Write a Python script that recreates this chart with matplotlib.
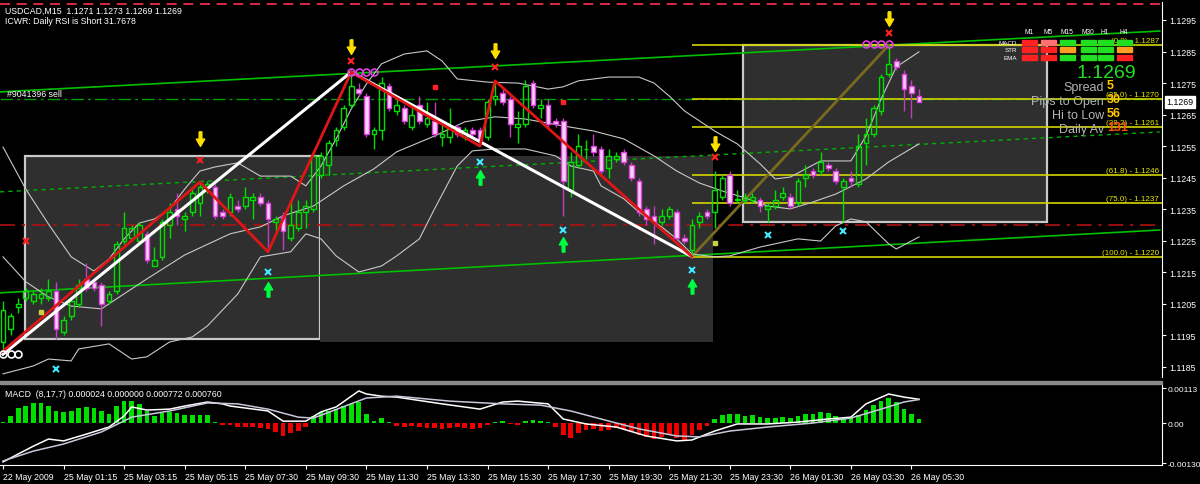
import numpy as np
import matplotlib.pyplot as plt
from matplotlib.patches import Rectangle
from matplotlib.path import Path
from matplotlib.transforms import blended_transform_factory

plt.rcParams['font.family'] = ['Liberation Sans', 'DejaVu Sans']

# ---------------- USDCAD M15 bars (index 0 = last bar of 22 May) ----------------
opens = [1.1193, 1.1197, 1.1204, 1.1207, 1.1206, 1.1207, 1.1207, 1.1209, 1.1196, 1.1201,
         1.1205, 1.1213, 1.1212, 1.1211, 1.1206, 1.1209, 1.1225, 1.1226, 1.1225, 1.1227,
         1.1217, 1.1220, 1.1230, 1.1235, 1.1232, 1.1234, 1.1237, 1.1242, 1.1242, 1.1234,
         1.1234, 1.1236, 1.1236, 1.1238, 1.1239, 1.1237, 1.1231, 1.1233, 1.1226, 1.1229,
         1.1234, 1.1235, 1.1246, 1.1249, 1.1257, 1.1261, 1.1268, 1.1273, 1.1271, 1.1259,
         1.1260, 1.1274, 1.1266, 1.1267, 1.1261, 1.1268, 1.1262, 1.1263, 1.1258, 1.1258,
         1.1261, 1.1258, 1.1260, 1.1260, 1.1258, 1.1270, 1.1272, 1.1270, 1.1261, 1.1262,
         1.1275, 1.1267, 1.1268, 1.1263, 1.1263, 1.1241, 1.1249, 1.1254, 1.1255, 1.1254,
         1.1248, 1.1251, 1.1253, 1.1249, 1.1244, 1.1235, 1.1233, 1.1231, 1.1233, 1.1234,
         1.1226, 1.1222, 1.1231, 1.1234, 1.1234, 1.1239, 1.1246, 1.1238, 1.1238, 1.1238,
         1.1238, 1.1235, 1.1236, 1.1239, 1.1239, 1.1237, 1.1245, 1.1247, 1.1247, 1.1249,
         1.1247, 1.1242, 1.1245, 1.1243, 1.1256, 1.1259, 1.1266, 1.1278, 1.1282, 1.1278,
         1.1274, 1.1271]
highs = [1.1206, 1.1202, 1.1207, 1.1210, 1.1209, 1.1210, 1.1213, 1.1212, 1.1201, 1.1207,
         1.1213, 1.1218, 1.1213, 1.1212, 1.1209, 1.1225, 1.1234, 1.1230, 1.1231, 1.1228,
         1.1223, 1.1232, 1.1237, 1.1240, 1.1234, 1.1242, 1.12436, 1.1244, 1.1243, 1.1235,
         1.1240, 1.1238, 1.1242, 1.1240, 1.1240, 1.1238, 1.1233, 1.1234, 1.1238, 1.1238,
         1.1238, 1.1253, 1.1253, 1.1257, 1.1261, 1.1268, 1.12785, 1.1275, 1.1272, 1.1261,
         1.1277, 1.1275, 1.1270, 1.1268, 1.1268, 1.1271, 1.1269, 1.1269, 1.1262, 1.1267,
         1.1262, 1.1261, 1.1261, 1.1261, 1.1270, 1.12757, 1.1273, 1.1271, 1.1266, 1.1276,
         1.1276, 1.1270, 1.1270, 1.1264, 1.1264, 1.1253, 1.1259, 1.1257, 1.1259, 1.1255,
         1.1254, 1.1253, 1.1254, 1.1250, 1.1245, 1.1236, 1.1236, 1.1235, 1.1236, 1.1235,
         1.1227, 1.1232, 1.1234, 1.1235, 1.1247, 1.1246, 1.1247, 1.1241, 1.1240, 1.1240,
         1.1239, 1.1237, 1.1241, 1.1242, 1.1240, 1.1245, 1.1249, 1.1248, 1.1253, 1.1250,
         1.1248, 1.1245, 1.1247, 1.1259, 1.1264, 1.1268, 1.1278, 1.1287, 1.1283, 1.1279,
         1.1276, 1.1273]
lows = [1.1189, 1.1195, 1.1202, 1.1206, 1.1205, 1.1205, 1.1206, 1.1194, 1.1195, 1.1200,
        1.1204, 1.1209, 1.1209, 1.1198, 1.1205, 1.1208, 1.1224, 1.1225, 1.1224, 1.1218,
        1.1217, 1.1219, 1.1226, 1.1230, 1.1228, 1.1233, 1.1233, 1.1240, 1.1232, 1.1232,
        1.1233, 1.1234, 1.1235, 1.1232, 1.1236, 1.12215, 1.1228, 1.1222, 1.1225, 1.1228,
        1.1229, 1.1234, 1.1245, 1.1246, 1.1255, 1.1260, 1.1267, 1.1271, 1.1258, 1.1254,
        1.1257, 1.1266, 1.1265, 1.1262, 1.1260, 1.1262, 1.1261, 1.1258, 1.1255, 1.1256,
        1.1258, 1.1257, 1.1258, 1.1255, 1.1257, 1.1268, 1.1268, 1.1258, 1.1256, 1.1261,
        1.1267, 1.1264, 1.1261, 1.1261, 1.1233, 1.1239, 1.1248, 1.1251, 1.1252, 1.1246,
        1.1245, 1.1250, 1.1249, 1.1244, 1.1233, 1.1230, 1.1224, 1.1230, 1.1232, 1.1225,
        1.1224, 1.1220, 1.1229, 1.1232, 1.1229, 1.1238, 1.1236, 1.1237, 1.1237, 1.1237,
        1.1234, 1.1231, 1.1235, 1.1238, 1.1235, 1.1236, 1.1242, 1.1245, 1.1246, 1.1247,
        1.1243, 1.1231, 1.1242, 1.1242, 1.1249, 1.1258, 1.1265, 1.1277, 1.1279, 1.1266,
        1.1264, 1.1269]
closes = [1.1203, 1.1201, 1.1205, 1.1209, 1.1208, 1.1208, 1.1209, 1.1197, 1.1200, 1.1206,
          1.1211, 1.1210, 1.1210, 1.1205, 1.1208, 1.1224, 1.1229, 1.1229, 1.1230, 1.1219,
          1.1219, 1.1231, 1.1234, 1.1233, 1.1233, 1.1240, 1.1242, 1.1243, 1.1233, 1.1233,
          1.1239, 1.1235, 1.1239, 1.1239, 1.1237, 1.1232, 1.1232, 1.1228, 1.1230, 1.1234,
          1.1236, 1.1252, 1.1252, 1.1256, 1.1260, 1.1267, 1.1274, 1.1272, 1.1259, 1.1260,
          1.1275, 1.1267, 1.1268, 1.1263, 1.1265, 1.1263, 1.1264, 1.1259, 1.1259, 1.1261,
          1.1259, 1.1260, 1.1259, 1.1257, 1.1269, 1.1271, 1.1269, 1.1262, 1.1262, 1.1274,
          1.1268, 1.1268, 1.1262, 1.1262, 1.1244, 1.1250, 1.1255, 1.1254, 1.1253, 1.1247,
          1.1252, 1.1252, 1.1250, 1.1245, 1.1234, 1.1232, 1.1231, 1.1233, 1.1235, 1.1226,
          1.1225, 1.1230, 1.1233, 1.1233, 1.1241, 1.1245, 1.1237, 1.1238, 1.1239, 1.1239,
          1.1236, 1.1236, 1.1238, 1.1240, 1.1236, 1.1244, 1.1246, 1.1246, 1.1250, 1.1248,
          1.1244, 1.1244, 1.1244, 1.1255, 1.1259, 1.1267, 1.1277, 1.1281, 1.1280, 1.1273,
          1.1272, 1.1269]

# Bollinger bands (bar, price)
bb_up_bar = [0, 3, 6, 9, 12, 14, 16, 18, 20, 22, 24, 26, 28, 31, 34, 38, 40, 42, 44, 46, 48, 50, 53,
             56, 58, 60, 64, 68, 72, 74, 76, 80, 84, 86, 88, 90, 92, 94, 97, 100, 102, 104, 108,
             112, 114, 116, 118, 121]
bb_up = [1.12547, 1.12414, 1.12303, 1.12199, 1.12154, 1.12192, 1.12256, 1.12306, 1.12319, 1.12351,
         1.12414, 1.12471, 1.12484, 1.12497, 1.12455, 1.12455, 1.12424, 1.12487, 1.12573, 1.12668,
         1.12747, 1.12811, 1.12842, 1.12852, 1.12820, 1.12763, 1.12753, 1.12750, 1.12731, 1.12738,
         1.12757, 1.12769, 1.12769, 1.12750, 1.12709, 1.12662, 1.12630, 1.12598, 1.12557, 1.12494,
         1.12446, 1.12452, 1.12503, 1.12503, 1.12582, 1.12700, 1.12801, 1.12849]
bb_mid_bar = [0, 3, 6, 9, 13, 15, 19, 24, 30, 34, 37, 41, 45, 49, 52, 57, 61, 65, 69, 74, 78, 82,
              86, 89, 92, 95, 98, 101, 104, 107, 110, 114, 117, 121]
bb_mid = [1.12199, 1.12120, 1.12072, 1.12043, 1.12034, 1.12066, 1.12129, 1.12205, 1.12272, 1.12294,
          1.12329, 1.12360, 1.12424, 1.12478, 1.12532, 1.12582, 1.12627, 1.12643, 1.12636, 1.12614,
          1.12598, 1.12573, 1.12519, 1.12471, 1.12433, 1.12408, 1.12386, 1.12360, 1.12351, 1.12373,
          1.12398, 1.12446, 1.12500, 1.12557]
bb_lo_bar = [0, 4, 6, 9, 10, 14, 17, 19, 22, 25, 27, 31, 34, 38, 40, 42, 44, 47, 50, 52, 55, 57,
             60, 62, 65, 69, 73, 75, 78, 79, 82, 84, 87, 89, 91, 94, 96, 100, 105, 108, 110, 112,
             114, 117, 118, 121]
bb_lo = [1.11828, 1.11853, 1.11875, 1.11869, 1.11907, 1.11923, 1.11875, 1.11882, 1.11929, 1.11945,
         1.11980, 1.12081, 1.12199, 1.12215, 1.12272, 1.12256, 1.12202, 1.12151, 1.12170, 1.12202,
         1.12256, 1.12351, 1.12487, 1.12535, 1.12541, 1.12541, 1.12519, 1.12487, 1.12471, 1.12424,
         1.12383, 1.12341, 1.12294, 1.12256, 1.12208, 1.12199, 1.12202, 1.12230, 1.12256, 1.12249,
         1.12297, 1.12319, 1.12310, 1.12240, 1.12224, 1.12262]

# zigzags (bar, price)
zz_white_bar = [0, 46, 91]
zz_white = [1.1189, 1.12785, 1.1220]
zz_red_bar = [0, 26, 35, 46, 63, 65, 91]
zz_red = [1.1190, 1.12436, 1.12215, 1.12785, 1.1255, 1.12757, 1.1220]

# channel lines (bar at left edge / right edge, price)
chan_bars = [-0.4, 152.8]
chan_top = [1.12722, 1.12915]
chan_bot = [1.12085, 1.12284]
chan_mid = [1.12405, 1.12595]

# boxes: start bar, end bar, low, high, outlined
box_x0 = [2.9, 41.9, 97.8]
box_x1 = [41.9, 93.8, 137.9]
box_lo = [1.1194, 1.1193, 1.1231]
box_hi = [1.1252, 1.1252, 1.1287]
box_edge = [True, False, True]

# fibonacci levels from the 1.1220 low (bar 91) to the 1.1287 high (bar 117)
fib_levels = [1.1287, 1.1270, 1.1261, 1.1246, 1.1237, 1.1220]
fib_names = ['(0.0) - 1.1287', '(25.0) - 1.1270', '(38.2) - 1.1261',
             '(61.8) - 1.1246', '(75.0) - 1.1237', '(100.0) - 1.1220']

# signal markers
down_arrow_bar = [26, 46, 65, 94, 117]
down_arrow_px = [1.12573, 1.12864, 1.12852, 1.12557, 1.12953]
red_x_bar = [3, 26, 46, 65, 94, 117]
red_x_px = [1.12249, 1.12506, 1.12820, 1.12801, 1.12516, 1.12909]
cyan_x_bar = [7, 35, 63, 74, 91, 101, 111]
cyan_x_px = [1.11844, 1.12151, 1.12500, 1.12284, 1.12158, 1.12268, 1.12281]
up_arrow_bar = [35, 63, 74, 91]
up_arrow_px = [1.12097, 1.12452, 1.12240, 1.12107]
pink_o_bar = [46, 47, 48, 49, 114, 115, 116, 117]
pink_o_px = [1.12785] * 4 + [1.12874] * 4
white_o_bar = [0, 1, 2]
white_o_px = [1.1189, 1.1189, 1.1189]
dot_bar = [5, 94]
dot_px = [1.12024, 1.12243]
red_dot_bar = [57, 74]
red_dot_px = [1.12738, 1.12690]

# MACD (8,17,7) panel
macd_hist = [0.00003, 0.00023, 0.00049, 0.00055, 0.00065, 0.00065, 0.00055, 0.00039, 0.00036, 0.00039,
             0.00049, 0.00052, 0.00049, 0.00039, 0.00029, 0.00055, 0.00071, 0.00071, 0.00062, 0.00039,
             0.00023, 0.00032, 0.00036, 0.00032, 0.00026, 0.00026, 0.00026, 0.00026, 0.00002, -0.00006,
             -0.00006, -0.00013, -0.00013, -0.00013, -0.00016, -0.00019, -0.00029, -0.00042, -0.00032, -0.00026,
             -0.00013, 0.00023, 0.00036, 0.00039, 0.00045, 0.00055, 0.00062, 0.00068, 0.00029, 0.00006,
             0.00016, 0.00003, -0.00010, -0.00013, -0.00010, -0.00013, -0.00016, -0.00016, -0.00019, -0.00016,
             -0.00013, -0.00016, -0.00019, -0.00016, -0.00006, 0.00003, 0.00006, -0.00003, -0.00006, 0.00006,
             0.00010, 0.00006, 0.00003, -0.00013, -0.00039, -0.00049, -0.00032, -0.00023, -0.00019, -0.00026,
             -0.00023, -0.00016, -0.00019, -0.00026, -0.00039, -0.00045, -0.00052, -0.00045, -0.00039, -0.00049,
             -0.00055, -0.00039, -0.00023, -0.00010, 0.00013, 0.00026, 0.00029, 0.00029, 0.00023, 0.00026,
             0.00019, 0.00016, 0.00016, 0.00019, 0.00016, 0.00023, 0.00029, 0.00029, 0.00036, 0.00032,
             0.00023, 0.00016, 0.00016, 0.00026, 0.00042, 0.00058, 0.00071, 0.00081, 0.00068, 0.00045,
             0.00029, 0.00013]
macd_main_bar = [0, 4, 6, 8, 11, 14, 16, 17, 19, 22, 24, 27, 29, 30, 35, 37, 40, 42, 44, 47, 48, 50,
                 52, 58, 63, 66, 68, 72, 74, 77, 81, 85, 89, 91, 94, 97, 101, 105, 109, 112, 114,
                 117, 119, 121]
macd_main = [-0.00126, -0.00075, -0.00052, -0.00058, -0.00036, -0.00013, 0.00023, 0.00052, 0.00042,
             0.00045, 0.00055, 0.00068, 0.00062, 0.00055, 0.00039, 0.00006, 0.00006, 0.00036, 0.00052,
             0.00104, 0.00094, 0.00087, 0.00084, 0.00062, 0.00045, 0.00068, 0.00071, 0.00062, 0.00013,
             -0.00003, -0.00013, -0.00042, -0.00058, -0.00055, -0.00026, -0.00003, -0.00003, 0.00003,
             0.00013, 0.00019, 0.00062, 0.00094, 0.00084, 0.00077]
macd_sig_bar = [0, 4, 8, 13, 17, 22, 27, 31, 35, 39, 41, 48, 52, 59, 66, 71, 75, 79, 84, 89, 92, 96,
                101, 107, 112, 116, 119, 121]
macd_sig = [-0.00123, -0.00091, -0.00068, -0.00029, 0.00019, 0.00039, 0.00065, 0.00062, 0.00045,
            0.00019, 0.00016, 0.00081, 0.00087, 0.00071, 0.00062, 0.00058, 0.00039, 0.00013, -0.00019,
            -0.00042, -0.00045, -0.00026, -0.00013, 0.0, 0.00016, 0.00045, 0.00068, 0.00076]

tick_bars = list(range(0, 121, 8))
tick_labels = ['22 May 2009', '25 May 01:15', '25 May 03:15', '25 May 05:15', '25 May 07:30',
               '25 May 09:30', '25 May 11:30', '25 May 13:30', '25 May 15:30', '25 May 17:30',
               '25 May 19:30', '25 May 21:30', '25 May 23:30', '26 May 01:30', '26 May 03:30',
               '26 May 05:30']
price_ticks = [1.1185 + 0.001 * k for k in range(12)]

# ---------------- figure ----------------
W, H = 1200, 485
fig = plt.figure(figsize=(12, 4.85), dpi=100, facecolor='black')


def fx(px):
    return px / W


def fy(py):
    return 1 - py / H


# thick arrow marker shapes (MT4 wingdings arrows)
down_shape = Path([(-0.18, 1), (0.18, 1), (0.18, 0.05), (0.55, 0.05), (0, -0.9), (-0.55, 0.05), (-0.18, 0.05), (-0.18, 1)])
up_shape = Path([(x, -y) for x, y in down_shape.vertices])

ax = fig.add_axes([0, fy(378), fx(1162), (378 - 3) / H], facecolor='black')
ax2 = fig.add_axes([0, fy(466), fx(1162), (466 - 385) / H], facecolor='black')
for a in (ax, ax2):
    a.set_xlim(-0.4, 153.1)
    for s in ['top', 'left', 'bottom']:
        a.spines[s].set_visible(False)
    a.spines['right'].set_color('white')
    a.yaxis.tick_right()
    a.tick_params(colors='white', labelsize=6.3, length=3, pad=2, width=0.8)
ax2.spines['bottom'].set_visible(True)
ax2.spines['bottom'].set_color('white')

ax.set_ylim(1.11818, 1.13007)
ax.set_xticks([])
ax.set_yticks(price_ticks, ['%.4f' % p for p in price_ticks])

# separator between panels
fig.add_artist(Rectangle((0, fy(385)), fx(1162), 3 / H, color='#8a8a8a', transform=fig.transFigure))

# boxes
for x0, x1, lo, hi, e in zip(box_x0, box_x1, box_lo, box_hi, box_edge):
    ax.add_patch(Rectangle((x0, lo), x1 - x0, hi - lo, facecolor='#2f2f2f',
                           edgecolor='#c8c8c8' if e else 'none', lw=1.6, zorder=0.5))

# horizontal lines
ax.axhline(1.1270, color='#00a000', lw=1, ls=(0, (9, 3, 2, 3)), zorder=1)
ax.axhline(1.1230, color='#b01010', lw=1.2, ls=(0, (9, 4, 2, 4)), zorder=1)
ax.axhline(1.1300, color='#ff3050', lw=1.2, ls=(0, (6, 4)), zorder=1)
ax.text(0.5, 1.1270 + 0.00003, '#9041396 sell', color='white', fontsize=6.3, va='bottom')

# channel lines
ax.plot(chan_bars, chan_top, color='#00c000', lw=1.2, zorder=1.5)
ax.plot(chan_bars, chan_bot, color='#00c000', lw=1.2, zorder=1.5)
ax.plot(chan_bars, chan_mid, color='#00b000', lw=1, ls=(0, (3, 3)), zorder=1.5)

# fibo
xmax = ax.get_xlim()[1]
ax.hlines(fib_levels, 91, xmax, color='#d4d400', lw=1.2, zorder=1.6)
for lvl, name in zip(fib_levels, fib_names):
    ax.text(152.7, lvl + 0.00003, name, color='#e6e600', fontsize=5.8, ha='right', va='bottom', zorder=6)
ax.plot([91, 117], [1.1220, 1.1287], color='#7a6a1e', lw=2, zorder=1.7)

# bollinger bands
ax.plot(bb_up_bar, bb_up, color='#c8c8c8', lw=0.8, zorder=2)
ax.plot(bb_mid_bar, bb_mid, color='#c8c8c8', lw=0.8, zorder=2)
ax.plot(bb_lo_bar, bb_lo, color='#c8c8c8', lw=0.8, zorder=2)

# candles
bars = np.arange(len(opens))
o, h, l, c = map(np.array, (opens, highs, lows, closes))
up = c >= o
top = np.maximum(o, c)
bot = np.minimum(o, c)
hgt = np.maximum(top - bot, 0.00002)
ax.vlines(bars[up], top[up], h[up], color='#00e000', lw=1, zorder=3)
ax.vlines(bars[up], l[up], bot[up], color='#00e000', lw=1, zorder=3)
ax.vlines(bars[~up], l[~up], h[~up], color='#c040c0', lw=1, zorder=3)
ax.bar(bars[up], hgt[up], bottom=bot[up], width=0.62, facecolor='none', edgecolor='#00e000', lw=1, zorder=3.5)
ax.bar(bars[~up], hgt[~up], bottom=bot[~up], width=0.62, facecolor='#f8d0f8', edgecolor='#e040e0', lw=1, zorder=3.5)

# zigzags
ax.plot(zz_white_bar, zz_white, color='white', lw=2.2, zorder=4)
ax.plot(zz_red_bar, zz_red, color='#e01515', lw=2, zorder=4.1)

# markers
ax.plot(down_arrow_bar, down_arrow_px, ls='none', marker=down_shape, color='#ffe000', ms=11, zorder=5)
ax.plot(up_arrow_bar, up_arrow_px, ls='none', marker=up_shape, color='#00ff40', ms=11, zorder=5)
ax.plot(red_x_bar, red_x_px, 'x', color='#ff2020', ms=4, mew=1.5, zorder=5)
ax.plot(cyan_x_bar, cyan_x_px, 'x', color='#40e8ff', ms=4, mew=1.5, zorder=5)
ax.plot(pink_o_bar, pink_o_px, 'o', mfc='none', mec='#e040e0', ms=5, mew=1.2, zorder=5)
ax.plot(white_o_bar, white_o_px, 'o', mfc='none', mec='white', ms=5, mew=1.2, zorder=5)
ax.plot(dot_bar, dot_px, 's', color='#c8d040', ms=2.5, zorder=5)
ax.plot(red_dot_bar, red_dot_px, 's', color='#ff2020', ms=2.5, zorder=5)

# current price tag
tr = blended_transform_factory(ax.transAxes, ax.transData)
ax.text(1.004, closes[-1], '%.4f' % closes[-1], transform=tr, color='black', fontsize=6.3, va='center',
        bbox=dict(facecolor='white', edgecolor='white', pad=1.2), zorder=10, clip_on=False)

# header text
fig.text(fx(5), fy(11), 'USDCAD,M15  1.1271 1.1273 1.1269 1.1269', color='white', fontsize=6.3, va='center')
fig.text(fx(5), fy(22), 'ICWR: Daily RSI is Short 31.7678', color='white', fontsize=6.3, va='center')

# signal dashboard (top right)
tf_names = ['M1', 'M5', 'M15', 'M30', 'H1', 'H4']
tf_x = [1022, 1041, 1060, 1081, 1098, 1117]
row_names = ['MACD', 'STR', 'EMA']
row_y = [41, 48, 56]
cell_colors = [['#ff2020', '#ff7070', '#20e020', '#20e020', '#20e020', '#20e020'],
               ['#ff2020', '#ff2020', '#ffa020', '#20e020', '#20e020', '#ffa020'],
               ['#ff2020', '#ff2020', '#20e020', '#20e020', '#20e020', '#ff2020']]
for name, x in zip(tf_names, tf_x):
    fig.text(fx(x + 7), fy(33), name, color='white', fontsize=4.8, ha='center', va='center')
for r, (name, y) in enumerate(zip(row_names, row_y)):
    fig.text(fx(1017), fy(y + 2.5), name, color='white', fontsize=4.5, ha='right', va='center')
    for k, x in enumerate(tf_x):
        fig.add_artist(Rectangle((fx(x), fy(y + 5)), 15 / W, 5 / H, color=cell_colors[r][k],
                                 transform=fig.transFigure, zorder=8))
fig.text(fx(1106), fy(73), '1.1269', color='#20e020', fontsize=14, ha='center', va='center', zorder=9)
info_names = ['Spread', 'Pips to Open', 'Hi to Low', 'Daily Av']
info_vals = ['5', '30', '56', '131']
info_cols = ['#ffc800', '#ffc800', '#ffc800', '#ff4a10']
info_y = [88, 102, 116, 130]
for name, val, col, y in zip(info_names, info_vals, info_cols, info_y):
    fig.text(fx(1104), fy(y), name, color='#b4b4b4', fontsize=9, ha='right', va='center', zorder=9)
    fig.text(fx(1107), fy(y - 2), val, color=col, fontsize=9, fontweight='bold', ha='left', va='center', zorder=9)

# ---------------- MACD panel ----------------
hist = np.array(macd_hist)
cols = np.where(hist >= 0, '#00e000', '#ee0000')
ax2.bar(bars, hist, width=0.62, color=cols, zorder=2)
ax2.plot(macd_main_bar, macd_main, color='white', lw=1.1, zorder=3)
ax2.plot(macd_sig_bar, macd_sig, color='#c8c8dc', lw=1.1, zorder=3)
ax2.set_ylim(-0.00136, 0.001264)
ax2.set_yticks([0.00113, 0.0, -0.0013], ['0.00113', '0.00', '-0.00130'])
ax2.tick_params(axis='y', labelsize=6, pad=1)
ax2.set_xticks(tick_bars, tick_labels)
for t in ax2.get_xticklabels():
    t.set_ha('left')
ax2.tick_params(axis='x', pad=2)
fig.text(fx(5), fy(395), 'MACD  (8,17,7) 0.000024 0.000000 0.000772 0.000760', color='white',
         fontsize=6.3, va='center')

fig.savefig('out.png', dpi=100, facecolor='black')
